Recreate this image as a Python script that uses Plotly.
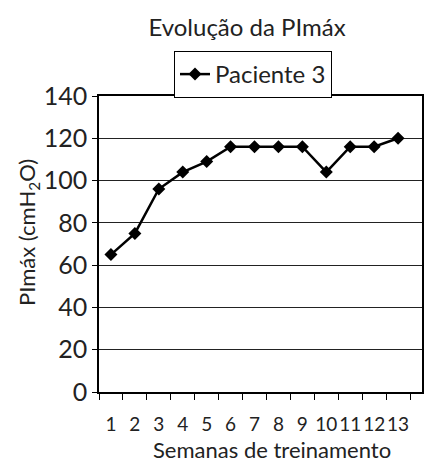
import plotly.graph_objects as go

weeks = [str(i) for i in range(1, 14)]
pimax = [65, 75, 96, 104, 109, 116, 116, 116, 116, 104, 116, 116, 120]
y_ticks = [0, 20, 40, 60, 80, 100, 120, 140]

FONT = "Lato"
W, H = 432, 465
OFF = 8  # page body margin shifts the figure by 8px

fig = go.Figure()
fig.add_trace(go.Scatter(
    x=weeks, y=pimax, name="Paciente 3",
    mode="lines+markers",
    line=dict(color="black", width=2.5),
    marker=dict(symbol="diamond", size=10, color="black"),
))

fig.update_layout(
    width=W, height=H,
    margin=dict(l=99 - OFF, r=W - (422 - OFF), t=96 - OFF, b=H - (392 - OFF), autoexpand=False),
    paper_bgcolor="white", plot_bgcolor="white",
    font=dict(family=FONT, color="#222"),
    title=dict(text="Evolução da PImáx", font=dict(size=24, color="#222"),
               xref="container", x=(247 - OFF) / W, xanchor="center",
               yref="container", y=1 - (28 - OFF) / H, yanchor="middle"),
    showlegend=True,
    legend=dict(xref="container", x=(253 - OFF) / W, xanchor="center",
                yref="container", y=1 - (51 - OFF) / H, yanchor="top",
                bordercolor="black", borderwidth=1,
                font=dict(size=24, color="#222"),
                itemwidth=30, bgcolor="white"),
    xaxis=dict(
        type="category", range=[-0.5, 13.0], automargin=False,
        tickson="boundaries", ticks="outside", ticklen=6, tickcolor="black",
        tickangle=0, ticklabelstandoff=14,
        showgrid=False, showline=True, linecolor="black", linewidth=1.5,
        mirror=True, tickfont=dict(size=19),
    ),
    yaxis=dict(
        range=[0, 140], tickvals=y_ticks, automargin=False,
        ticks="outside", ticklen=5, tickcolor="black",
        showgrid=True, gridcolor="#222", gridwidth=1,
        showline=True, linecolor="black", linewidth=1.5, mirror=True,
        tickfont=dict(size=25), zeroline=False,
    ),
    annotations=[
        dict(text="Semanas de treinamento", font=dict(size=22),
             xref="paper", x=(272 - 99) / (422 - 99), xanchor="center",
             yref="paper", y=-(449 - 392) / (392 - 96), yanchor="middle",
             showarrow=False),
        dict(text="PImáx (cmH<sub>2</sub>O)", font=dict(size=22), textangle=-90,
             xref="paper", x=-(99 - 28) / (422 - 99), xanchor="center",
             yref="paper", y=(392 - 233) / (392 - 96), yanchor="middle",
             showarrow=False),
    ],
)

fig.write_html("out.html")
